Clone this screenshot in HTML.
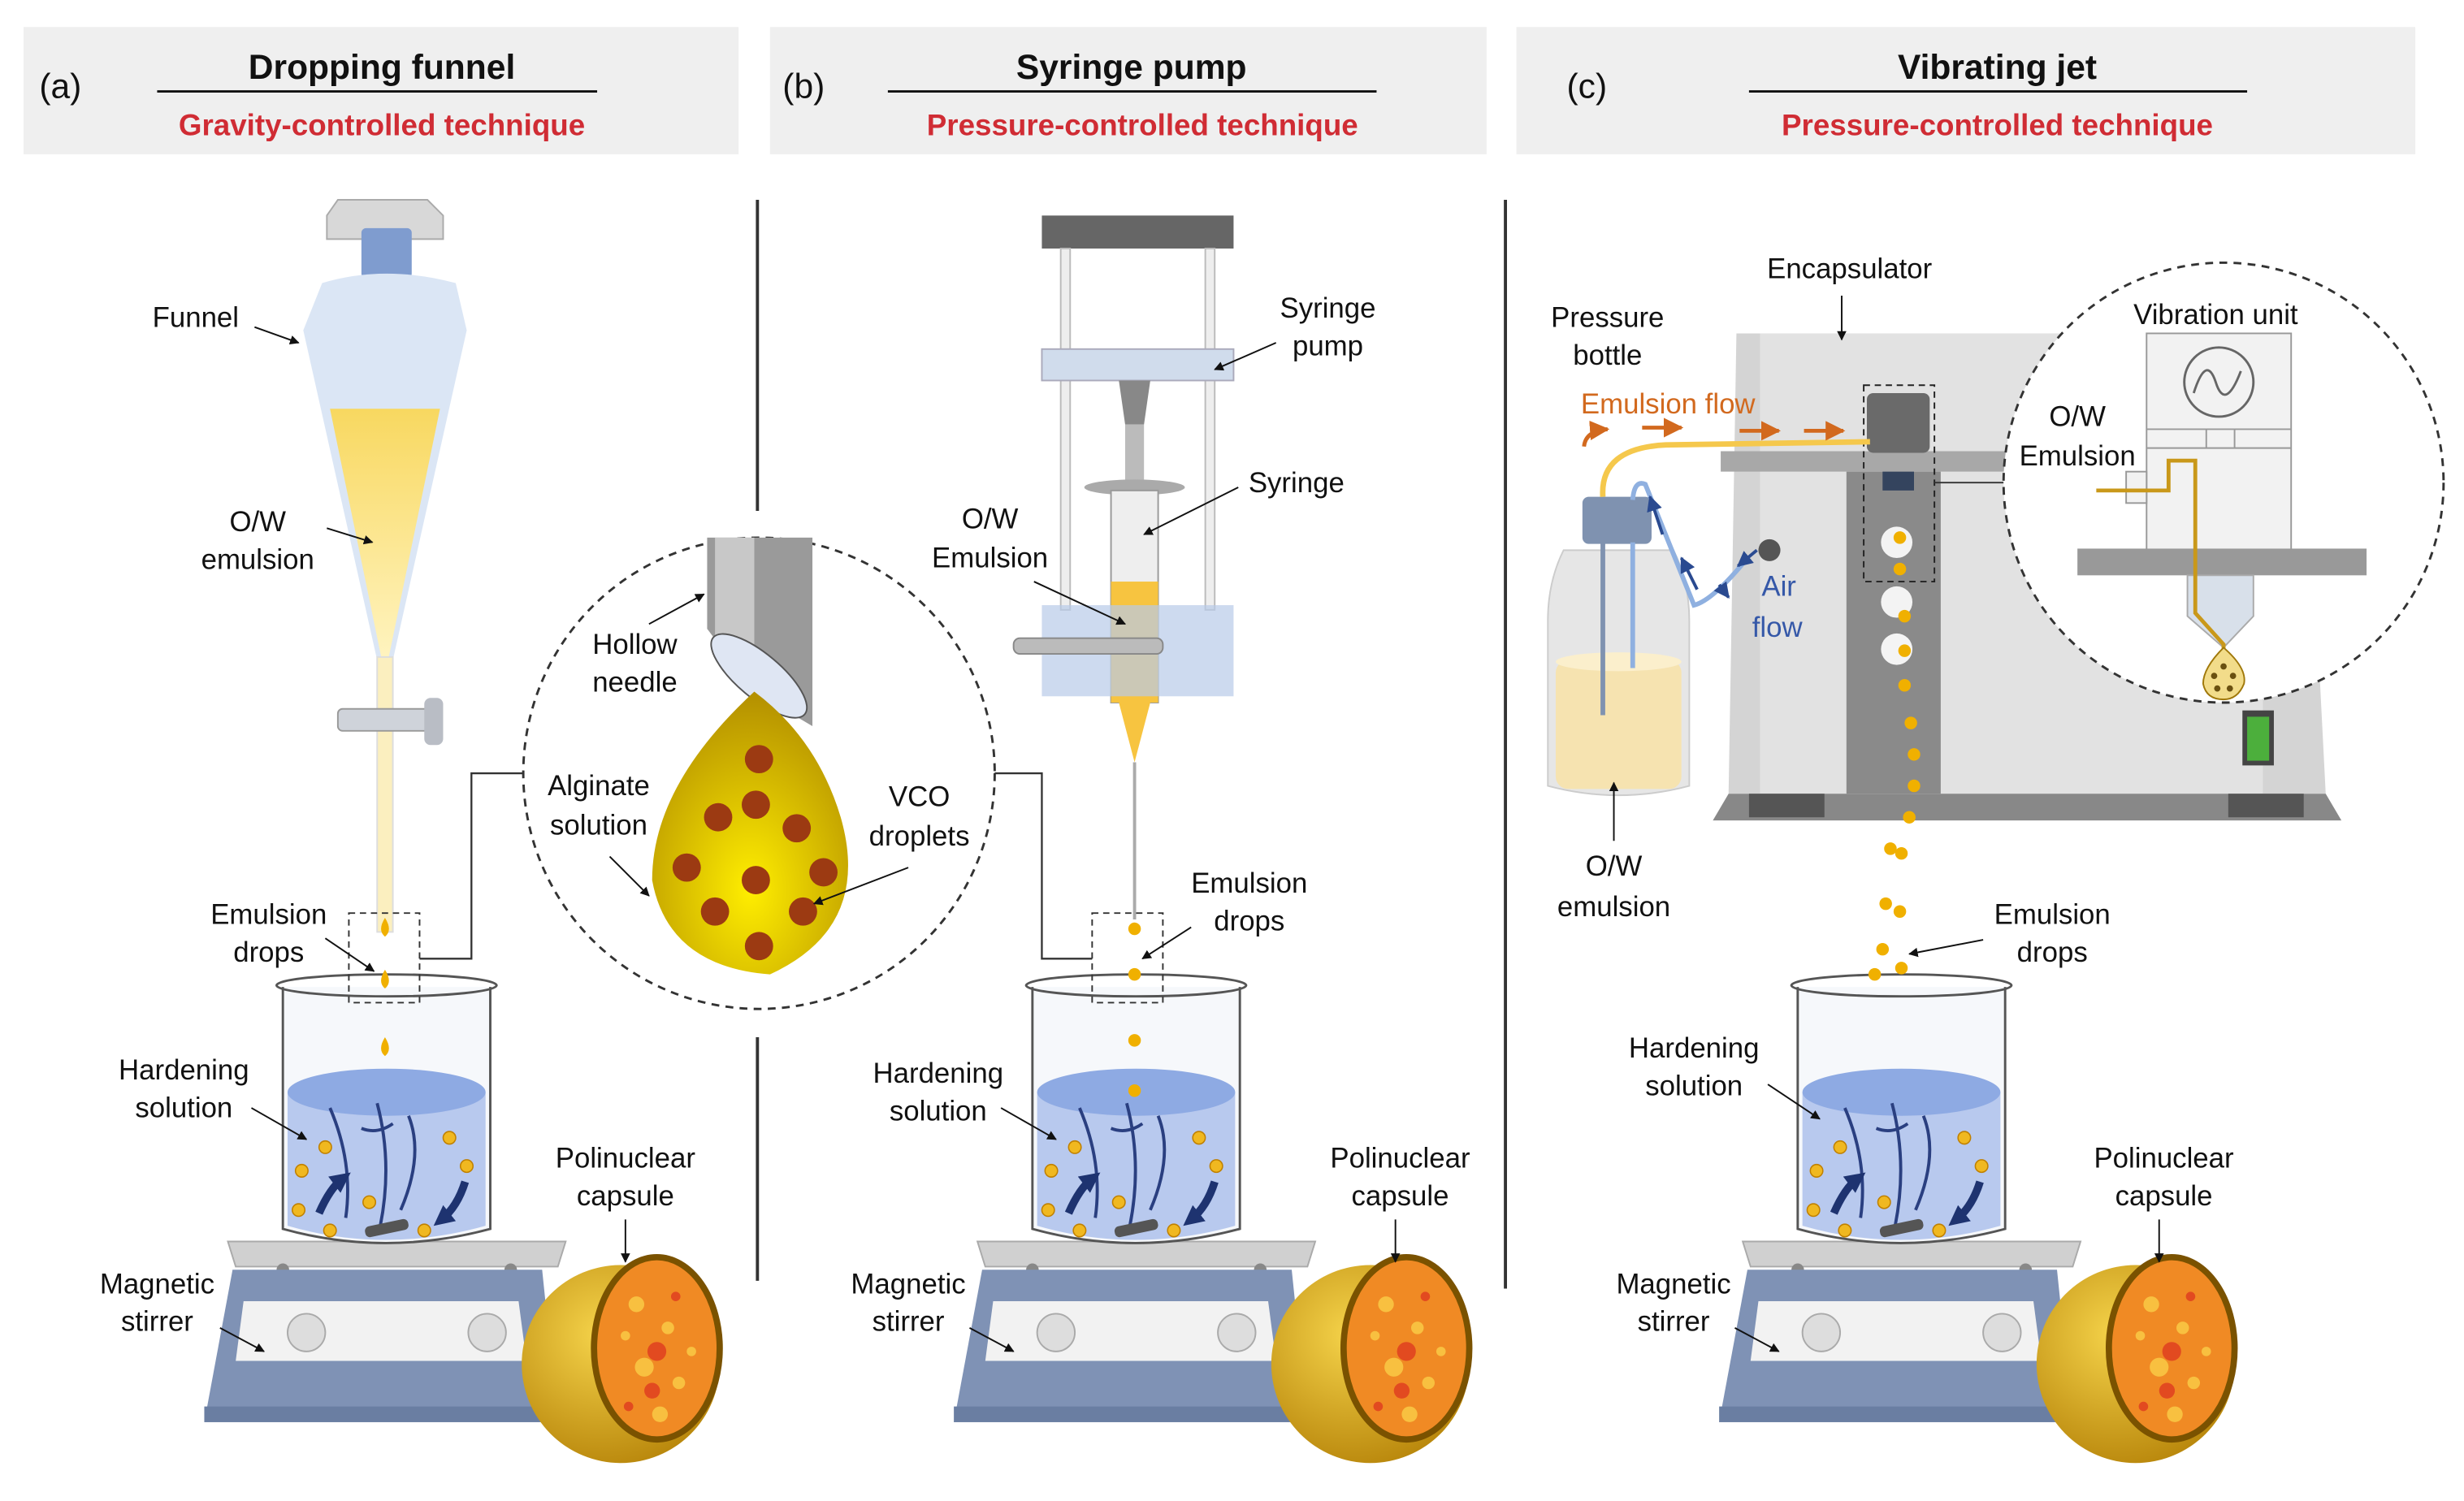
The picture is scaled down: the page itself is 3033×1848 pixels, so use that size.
<!DOCTYPE html>
<html><head><meta charset="utf-8"><style>
html,body{margin:0;padding:0;background:#fff}
svg{display:block}
text{font-family:"Liberation Sans",Arial,sans-serif;fill:#111}
</style></head><body>
<svg width="3033" height="1848" viewBox="0 0 1568 955" xmlns="http://www.w3.org/2000/svg">
<defs>
<marker id="ah" viewBox="0 0 10 10" refX="9" refY="5" markerWidth="6" markerHeight="6" orient="auto"><path d="M0,0L10,5L0,10z" fill="#111"/></marker>
<marker id="ao" viewBox="0 0 10 10" refX="9" refY="5" markerWidth="5" markerHeight="5" orient="auto"><path d="M0,0L10,5L0,10z" fill="#d2691e"/></marker>
<marker id="ab" viewBox="0 0 10 10" refX="9" refY="5" markerWidth="5" markerHeight="5" orient="auto"><path d="M0,0L10,5L0,10z" fill="#2a4a90"/></marker>
<marker id="abig" viewBox="0 0 10 10" refX="5" refY="5" markerWidth="13" markerHeight="13" markerUnits="userSpaceOnUse" orient="auto"><path d="M0,0L10,5L0,10z" fill="#1e3370"/></marker>
<radialGradient id="gold" cx="40%" cy="35%" r="70%"><stop offset="0" stop-color="#f5d34a"/><stop offset="1" stop-color="#b8860b"/></radialGradient>
<radialGradient id="dropg" cx="50%" cy="70%" r="70%"><stop offset="0" stop-color="#ffee00"/><stop offset="1" stop-color="#b38f00"/></radialGradient>
<linearGradient id="funl" x1="0" y1="0" x2="0" y2="1"><stop offset="0" stop-color="#f8d860"/><stop offset="1" stop-color="#fff4c0"/></linearGradient>
<g id="station">
  <path d="M145,790 L360,790 L355,806 L150,806 Z" fill="#d0d0d0" stroke="#aaa"/>
  <circle cx="180" cy="808" r="4" fill="#888"/><circle cx="325" cy="808" r="4" fill="#888"/>
  <path d="M148,808 L345,808 L355,905 L130,905 Z" fill="#7f92b5"/>
  <path d="M130,895 L355,895 L355,905 L130,905 Z" fill="#6a7ea2"/>
  <path d="M155,828 L330,828 L335,866 L150,866 Z" fill="#f2f2f2"/>
  <circle cx="195" cy="848" r="12" fill="#ddd" stroke="#aaa"/>
  <circle cx="310" cy="848" r="12" fill="#ddd" stroke="#aaa"/>
  <path d="M180,628 L180,782 Q245,800 312,782 L312,628" fill="#f6f8fb" stroke="#555" stroke-width="1.5"/>
  <ellipse cx="246" cy="627" rx="70" ry="7" fill="none" stroke="#555" stroke-width="1.5"/>
  <path d="M183,695 L183,780 Q245,798 309,780 L309,695 Z" fill="#b8c9ee"/>
  <ellipse cx="246" cy="695" rx="63" ry="15" fill="#8eaae3"/>
  <path d="M210,705 Q225,740 220,775 M240,702 Q250,740 242,780 M260,710 Q270,735 255,770 M230,718 Q240,722 250,715" fill="none" stroke="#2a3f80" stroke-width="2"/>
  <rect x="232" y="778" width="28" height="7" rx="3" fill="#555" transform="rotate(-12 246 781)"/>
  <path d="M203,772 Q210,756 218,750" stroke="#1e3370" stroke-width="5" fill="none" marker-end="url(#abig)"/>
  <path d="M296,752 Q291,768 281,776" stroke="#1e3370" stroke-width="5" fill="none" marker-end="url(#abig)"/>
  <g fill="#f0b820" stroke="#c08000" stroke-width="0.8">
    <circle cx="192" cy="745" r="4"/><circle cx="207" cy="730" r="4"/><circle cx="286" cy="724" r="4"/><circle cx="297" cy="742" r="4"/>
    <circle cx="190" cy="770" r="4"/><circle cx="210" cy="783" r="4"/><circle cx="270" cy="783" r="4"/><circle cx="235" cy="765" r="4"/>
  </g>
  <circle cx="395" cy="868" r="63" fill="url(#gold)"/>
  <ellipse cx="418" cy="858" rx="40" ry="58" fill="#f08a24" stroke="#7a5200" stroke-width="4"/>
  <g fill="#f8c040"><circle cx="405" cy="830" r="5"/><circle cx="425" cy="845" r="4"/><circle cx="410" cy="870" r="6"/><circle cx="432" cy="880" r="4"/><circle cx="420" cy="900" r="5"/><circle cx="398" cy="850" r="3"/><circle cx="440" cy="860" r="3"/></g>
  <g fill="#e24a20"><circle cx="418" cy="860" r="6"/><circle cx="415" cy="885" r="5"/><circle cx="400" cy="895" r="3"/><circle cx="430" cy="825" r="3"/></g>
</g>
</defs>

<rect x="15" y="17" width="455" height="81" fill="#efefef"/>
<rect x="490" y="17" width="456" height="81" fill="#efefef"/>
<rect x="965" y="17" width="572" height="81" fill="#efefef"/>
<text x="25" y="62" font-size="22">(a)</text>
<text x="498" y="62" font-size="22">(b)</text>
<text x="997" y="62" font-size="22">(c)</text>
<text x="243" y="50" font-size="22" font-weight="bold" text-anchor="middle">Dropping funnel</text>
<text x="720" y="50" font-size="22" font-weight="bold" text-anchor="middle">Syringe pump</text>
<text x="1271" y="50" font-size="22" font-weight="bold" text-anchor="middle">Vibrating jet</text>
<line x1="100" y1="58" x2="380" y2="58" stroke="#111" stroke-width="1.5"/>
<line x1="565" y1="58" x2="876" y2="58" stroke="#111" stroke-width="1.5"/>
<line x1="1113" y1="58" x2="1430" y2="58" stroke="#111" stroke-width="1.5"/>
<text x="243" y="86" font-size="19" font-weight="bold" text-anchor="middle" style="fill:#d02c34">Gravity-controlled technique</text>
<text x="727" y="86" font-size="19" font-weight="bold" text-anchor="middle" style="fill:#d02c34">Pressure-controlled technique</text>
<text x="1271" y="86" font-size="19" font-weight="bold" text-anchor="middle" style="fill:#d02c34">Pressure-controlled technique</text>

<line x1="482" y1="127" x2="482" y2="325" stroke="#333" stroke-width="2"/>
<line x1="482" y1="660" x2="482" y2="815" stroke="#333" stroke-width="2"/>
<line x1="958" y1="127" x2="958" y2="820" stroke="#333" stroke-width="2"/>

<use href="#station"/>
<use href="#station" x="477"/>
<use href="#station" x="964"/>

<path d="M215,127 L272,127 L282,137 L282,152 L208,152 L208,137 Z" fill="#d8d8d8" stroke="#aaa"/>
<rect x="230" y="145" width="32" height="32" rx="3" fill="#7f9ccf"/>
<path d="M205,180 Q245,168 290,180 L297,210 L250,420 L240,420 L193,210 Z" fill="#dbe6f5"/>
<path d="M210,260 L280,260 L247,420 L243,420 Z" fill="url(#funl)"/>
<rect x="240" y="418" width="10" height="175" fill="#fbefbf" stroke="#ddd"/>
<rect x="215" y="451" width="60" height="14" rx="3" fill="#cfd3da" stroke="#999"/>
<rect x="270" y="444" width="12" height="30" rx="4" fill="#b9bdc5"/>
<path d="M245,584 q-5,8 0,12 q5,-4 0,-12z" fill="#f0b000"/>
<path d="M245,617 q-5,8 0,12 q5,-4 0,-12z" fill="#f0b000"/>
<path d="M245,660 q-5,8 0,12 q5,-4 0,-12z" fill="#f0b000"/>
<rect x="222" y="581" width="45" height="57" fill="none" stroke="#333" stroke-dasharray="4,3"/>
<polyline points="267,610 300,610 300,492 336,492" fill="none" stroke="#333" stroke-width="1.2"/>
<circle cx="483" cy="492" r="150" fill="#fff" stroke="#333" stroke-dasharray="5,4" stroke-width="1.5"/>
<path d="M450,342 L517,342 L517,462 L480,440 L450,400 Z" fill="#9a9a9a"/>
<path d="M455,342 L480,342 L480,430 L455,405 Z" fill="#c8c8c8"/>
<ellipse cx="483" cy="430" rx="38" ry="14" transform="rotate(40 483 430)" fill="#dfe6f3" stroke="#555"/>
<path d="M480,440 Q520,470 535,520 Q555,590 490,620 Q425,615 415,560 Q415,500 480,440Z" fill="url(#dropg)"/>
<g fill="#9c3a12"><circle cx="483" cy="483" r="9"/><circle cx="457" cy="520" r="9"/><circle cx="481" cy="512" r="9"/><circle cx="507" cy="527" r="9"/><circle cx="437" cy="552" r="9"/><circle cx="481" cy="560" r="9"/><circle cx="524" cy="555" r="9"/><circle cx="455" cy="580" r="9"/><circle cx="511" cy="580" r="9"/><circle cx="483" cy="602" r="9"/></g>

<rect x="663" y="137" width="122" height="21" fill="#666"/>
<rect x="675" y="158" width="6" height="230" fill="#eee" stroke="#bbb"/>
<rect x="767" y="158" width="6" height="230" fill="#eee" stroke="#bbb"/>
<rect x="663" y="222" width="122" height="20" fill="#d0dcec" stroke="#aab"/>
<path d="M712,242 L732,242 L728,270 L716,270 Z" fill="#888"/>
<rect x="716" y="270" width="12" height="40" fill="#bbb"/>
<ellipse cx="722" cy="310" rx="32" ry="5" fill="#aaa"/>
<rect x="707" y="312" width="30" height="135" fill="#eee" stroke="#999"/>
<rect x="707" y="370" width="30" height="77" fill="#f7c440"/>
<rect x="663" y="385" width="122" height="58" fill="#b8cbe8" opacity="0.7"/>
<rect x="645" y="406" width="95" height="10" rx="4" fill="#bbb" stroke="#888"/>
<path d="M712,447 L732,447 L722,485 Z" fill="#f7c440"/>
<line x1="722" y1="485" x2="722" y2="585" stroke="#aaa" stroke-width="2"/>
<g fill="#f0b000"><circle cx="722" cy="591" r="4"/><circle cx="722" cy="620" r="4"/><circle cx="722" cy="662" r="4"/><circle cx="722" cy="694" r="4"/></g>
<rect x="695" y="581" width="45" height="57" fill="none" stroke="#333" stroke-dasharray="4,3"/>
<polyline points="695,610 663,610 663,492 633,492" fill="none" stroke="#333" stroke-width="1.2"/>

<path d="M1105,212 L1465,212 L1480,505 L1100,505 Z" fill="#d4d4d4"/>
<rect x="1120" y="212" width="320" height="295" fill="#e2e2e2"/>
<path d="M1100,505 L1480,505 L1490,522 L1090,522 Z" fill="#888"/>
<rect x="1113" y="505" width="48" height="15" fill="#555"/>
<rect x="1418" y="505" width="48" height="15" fill="#555"/>
<rect x="1175" y="300" width="60" height="205" fill="#8a8a8a"/>
<path d="M1095,287 L1280,287 L1280,300 L1095,300 Z" fill="#a8a8a8"/>
<rect x="1188" y="250" width="40" height="38" rx="4" fill="#6a6a6a"/>
<rect x="1198" y="300" width="20" height="12" fill="#34445e"/>
<g fill="#fff" opacity="0.9"><circle cx="1207" cy="345" r="10"/><circle cx="1207" cy="383" r="10"/><circle cx="1207" cy="413" r="10"/></g>
<g fill="#f0b000"><circle cx="1209" cy="342" r="4"/><circle cx="1209" cy="362" r="4"/><circle cx="1212" cy="392" r="4"/><circle cx="1212" cy="414" r="4"/><circle cx="1212" cy="436" r="4"/><circle cx="1216" cy="460" r="4"/><circle cx="1218" cy="480" r="4"/><circle cx="1218" cy="500" r="4"/><circle cx="1215" cy="520" r="4"/><circle cx="1210" cy="543" r="4"/><circle cx="1203" cy="540" r="4"/><circle cx="1200" cy="575" r="4"/><circle cx="1209" cy="580" r="4"/><circle cx="1198" cy="604" r="4"/><circle cx="1193" cy="620" r="4"/><circle cx="1210" cy="616" r="4"/></g>
<rect x="1186" y="245" width="45" height="125" fill="none" stroke="#222" stroke-dasharray="4,3"/>
<line x1="1231" y1="307" x2="1275" y2="307" stroke="#333"/>
<rect x="1427" y="452" width="20" height="35" fill="#444"/>
<rect x="1430" y="456" width="14" height="28" fill="#4caf3c"/>
<circle cx="1415" cy="307" r="140" fill="#fff" stroke="#333" stroke-dasharray="5,4" stroke-width="1.5"/>
<rect x="1366" y="212" width="92" height="140" fill="#f2f2f2" stroke="#999"/>
<circle cx="1412" cy="243" r="22" fill="none" stroke="#666" stroke-width="1.5"/>
<path d="M1396,250 Q1404,225 1410,243 Q1416,262 1426,236" fill="none" stroke="#666" stroke-width="1.5"/>
<line x1="1366" y1="273" x2="1458" y2="273" stroke="#999"/><line x1="1366" y1="285" x2="1458" y2="285" stroke="#999"/>
<line x1="1404" y1="273" x2="1404" y2="285" stroke="#999"/><line x1="1422" y1="273" x2="1422" y2="285" stroke="#999"/>
<rect x="1353" y="300" width="13" height="20" fill="#f2f2f2" stroke="#999"/>
<rect x="1322" y="349" width="184" height="17" fill="#999"/>
<path d="M1392,366 L1434,366 L1434,392 L1415,412 L1392,392 Z" fill="#d8e0ea" stroke="#aaa"/>
<polyline points="1334,312 1380,312 1380,293 1397,293 1397,390 1415,410 1415,420" fill="none" stroke="#c9981a" stroke-width="2.5"/>
<path d="M1415,412 Q1430,425 1428,435 Q1424,445 1415,445 Q1404,445 1402,435 Q1402,425 1415,412Z" fill="#f2dc8a" stroke="#a0780a"/>
<g fill="#6a5010"><circle cx="1415" cy="424" r="2"/><circle cx="1409" cy="430" r="2"/><circle cx="1421" cy="430" r="2"/><circle cx="1411" cy="438" r="2"/><circle cx="1419" cy="438" r="2"/></g>
<path d="M995,350 L1065,350 Q1075,370 1075,395 L1075,500 Q1030,512 985,500 L985,395 Q985,370 995,350Z" fill="#e6e6e6" stroke="#ccc"/>
<rect x="990" y="420" width="80" height="82" rx="8" fill="#f6e3b0"/>
<ellipse cx="1030" cy="421" rx="40" ry="6" fill="#fbefcc"/>
<rect x="1007" y="316" width="44" height="30" rx="4" fill="#7f92b0"/>
<line x1="1020" y1="345" x2="1020" y2="455" stroke="#7f92b0" stroke-width="3"/>
<line x1="1039" y1="345" x2="1039" y2="425" stroke="#8fb0e0" stroke-width="3"/>
<path d="M1020,316 Q1018,285 1060,283 L1190,281" fill="none" stroke="#f5c84c" stroke-width="3.5"/>
<path d="M1039,318 Q1040,305 1047,308 L1078,385 Q1090,382 1112,355" fill="none" stroke="#8fb0e0" stroke-width="3"/>
<circle cx="1126" cy="350" r="7" fill="#555"/>
<path d="M1118,350 L1106,360" stroke="#2a4a90" stroke-width="2" marker-end="url(#ab)"/>
<path d="M1080,375 L1070,355" stroke="#2a4a90" stroke-width="2" marker-end="url(#ab)"/>
<path d="M1058,340 L1050,316" stroke="#2a4a90" stroke-width="2" marker-end="url(#ab)"/>
<path d="M1094,372 L1100,380" stroke="#2a4a90" stroke-width="2" marker-end="url(#ab)"/>
<path d="M1008,284 Q1009,274 1023,273" stroke="#d2691e" stroke-width="2.5" fill="none" marker-end="url(#ao)"/>
<line x1="1045" y1="272" x2="1070" y2="272" stroke="#d2691e" stroke-width="2.5" marker-end="url(#ao)"/>
<line x1="1107" y1="274" x2="1132" y2="274" stroke="#d2691e" stroke-width="2.5" marker-end="url(#ao)"/>
<line x1="1148" y1="274" x2="1173" y2="274" stroke="#d2691e" stroke-width="2.5" marker-end="url(#ao)"/>

<g font-size="18">
<text x="97" y="208">Funnel</text><line x1="162" y1="208" x2="190" y2="218" stroke="#111" marker-end="url(#ah)"/>
<text x="164" y="338" text-anchor="middle">O/W</text><text x="164" y="362" text-anchor="middle">emulsion</text>
<line x1="208" y1="336" x2="237" y2="345" stroke="#111" marker-end="url(#ah)"/>
<text x="404" y="416" text-anchor="middle">Hollow</text><text x="404" y="440" text-anchor="middle">needle</text>
<line x1="413" y1="397" x2="448" y2="378" stroke="#111" marker-end="url(#ah)"/>
<text x="381" y="506" text-anchor="middle">Alginate</text><text x="381" y="531" text-anchor="middle">solution</text>
<line x1="388" y1="545" x2="413" y2="570" stroke="#111" marker-end="url(#ah)"/>
<text x="585" y="513" text-anchor="middle">VCO</text><text x="585" y="538" text-anchor="middle">droplets</text>
<line x1="578" y1="552" x2="518" y2="575" stroke="#111" marker-end="url(#ah)"/>
<text x="171" y="588" text-anchor="middle">Emulsion</text><text x="171" y="612" text-anchor="middle">drops</text>
<line x1="207" y1="597" x2="238" y2="618" stroke="#111" marker-end="url(#ah)"/>
<text x="117" y="687" text-anchor="middle">Hardening</text><text x="117" y="711" text-anchor="middle">solution</text>
<line x1="160" y1="705" x2="195" y2="725" stroke="#111" marker-end="url(#ah)"/>
<text x="100" y="823" text-anchor="middle">Magnetic</text><text x="100" y="847" text-anchor="middle">stirrer</text>
<line x1="140" y1="845" x2="168" y2="860" stroke="#111" marker-end="url(#ah)"/>
<text x="398" y="743" text-anchor="middle">Polinuclear</text><text x="398" y="767" text-anchor="middle">capsule</text>
<line x1="398" y1="776" x2="398" y2="803" stroke="#111" marker-end="url(#ah)"/>

<text x="845" y="202" text-anchor="middle">Syringe</text><text x="845" y="226" text-anchor="middle">pump</text>
<line x1="812" y1="218" x2="773" y2="235" stroke="#111" marker-end="url(#ah)"/>
<text x="825" y="313" text-anchor="middle">Syringe</text>
<line x1="788" y1="310" x2="728" y2="340" stroke="#111" marker-end="url(#ah)"/>
<text x="630" y="336" text-anchor="middle">O/W</text><text x="630" y="361" text-anchor="middle">Emulsion</text>
<line x1="658" y1="370" x2="716" y2="397" stroke="#111" marker-end="url(#ah)"/>
<text x="795" y="568" text-anchor="middle">Emulsion</text><text x="795" y="592" text-anchor="middle">drops</text>
<line x1="758" y1="590" x2="727" y2="610" stroke="#111" marker-end="url(#ah)"/>
<text x="597" y="689" text-anchor="middle">Hardening</text><text x="597" y="713" text-anchor="middle">solution</text>
<line x1="637" y1="705" x2="672" y2="725" stroke="#111" marker-end="url(#ah)"/>
<text x="578" y="823" text-anchor="middle">Magnetic</text><text x="578" y="847" text-anchor="middle">stirrer</text>
<line x1="617" y1="845" x2="645" y2="860" stroke="#111" marker-end="url(#ah)"/>
<text x="891" y="743" text-anchor="middle">Polinuclear</text><text x="891" y="767" text-anchor="middle">capsule</text>
<line x1="888" y1="776" x2="888" y2="803" stroke="#111" marker-end="url(#ah)"/>

<text x="1177" y="177" text-anchor="middle">Encapsulator</text>
<line x1="1172" y1="188" x2="1172" y2="216" stroke="#111" marker-end="url(#ah)"/>
<text x="1023" y="208" text-anchor="middle">Pressure</text><text x="1023" y="232" text-anchor="middle">bottle</text>
<text x="1006" y="263" style="fill:#d2691e">Emulsion flow</text>
<text x="1121" y="379" style="fill:#3558a8">Air</text><text x="1115" y="405" style="fill:#3558a8">flow</text>
<text x="1410" y="206" text-anchor="middle">Vibration unit</text>
<text x="1322" y="271" text-anchor="middle">O/W</text><text x="1322" y="296" text-anchor="middle">Emulsion</text>
<text x="1027" y="557" text-anchor="middle">O/W</text><text x="1027" y="583" text-anchor="middle">emulsion</text>
<line x1="1027" y1="535" x2="1027" y2="498" stroke="#111" marker-end="url(#ah)"/>
<text x="1306" y="588" text-anchor="middle">Emulsion</text><text x="1306" y="612" text-anchor="middle">drops</text>
<line x1="1262" y1="598" x2="1215" y2="607" stroke="#111" marker-end="url(#ah)"/>
<text x="1078" y="673" text-anchor="middle">Hardening</text><text x="1078" y="697" text-anchor="middle">solution</text>
<line x1="1125" y1="690" x2="1158" y2="712" stroke="#111" marker-end="url(#ah)"/>
<text x="1065" y="823" text-anchor="middle">Magnetic</text><text x="1065" y="847" text-anchor="middle">stirrer</text>
<line x1="1104" y1="845" x2="1132" y2="860" stroke="#111" marker-end="url(#ah)"/>
<text x="1377" y="743" text-anchor="middle">Polinuclear</text><text x="1377" y="767" text-anchor="middle">capsule</text>
<line x1="1374" y1="776" x2="1374" y2="803" stroke="#111" marker-end="url(#ah)"/>
</g>
</svg>
</body></html>
